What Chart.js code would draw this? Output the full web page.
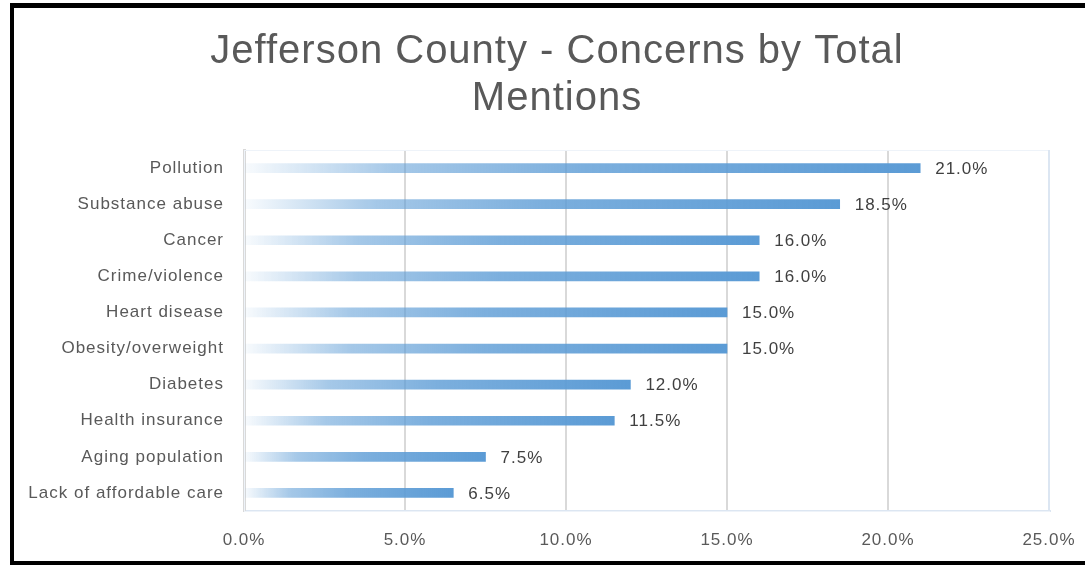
<!DOCTYPE html>
<html>
<head>
<meta charset="utf-8">
<title>Jefferson County - Concerns by Total Mentions</title>
<script src="https://cdn.jsdelivr.net/npm/chart.js@4/dist/chart.umd.min.js"></script>
<style>
  html, body { margin: 0; padding: 0; background: #fff; }
  #wrap { position: relative; width: 1085px; height: 565px; }
</style>
</head>
<body>
<div id="wrap"><canvas id="concerns"></canvas></div>
<script>
  // concerns, largest first (top of chart)
  var CATEGORIES = [
    "Pollution",
    "Substance abuse",
    "Cancer",
    "Crime/violence",
    "Heart disease",
    "Obesity/overweight",
    "Diabetes",
    "Health insurance",
    "Aging population",
    "Lack of affordable care"
  ];
  // share of total mentions, in percent
  var MENTIONS = [21.0, 18.5, 16.0, 16.0, 15.0, 15.0, 12.0, 11.5, 7.5, 6.5];
  var TITLE_LINES = ["Jefferson County - Concerns by Total", "Mentions"];
  var AXIS_MAX = 25;
  var AXIS_STEP = 5;

  var FONT = "'Liberation Sans', Arial, sans-serif";
  var LABEL = "#595959";
  var VALUE_INK = "#404040";
  var GRID = "#d9d9d9";
  var FRAME_EDGE = "#dce6f2";

  function pct(v) { return v.toFixed(1) + "%"; }

  // each bar fades in from white at zero to full blue at its end
  function barFill(ctx) {
    var chart = ctx.chart;
    if (!chart.chartArea || ctx.type !== "data") return "#5b9bd5";
    var x = chart.scales.x;
    var x0 = x.getPixelForValue(0);
    var x1 = x.getPixelForValue(ctx.raw);
    var g = chart.ctx.createLinearGradient(x0, 0, x1, 0);
    g.addColorStop(0, "rgba(91,155,213,0.04)");
    g.addColorStop(0.22, "rgba(91,155,213,0.55)");
    g.addColorStop(0.5, "rgba(91,155,213,0.8)");
    g.addColorStop(1, "rgba(91,155,213,1)");
    return g;
  }

  var spacing = {
    id: "spacing",
    beforeDraw: function (chart) { chart.ctx.letterSpacing = "1px"; },
    afterDraw: function (chart) { chart.ctx.letterSpacing = "0px"; }
  };

  var titleBlock = {
    id: "titleBlock",
    afterDraw: function (chart) {
      var c = chart.ctx;
      c.save();
      c.letterSpacing = "1px";
      c.font = "40px " + FONT;
      c.fillStyle = LABEL;
      c.textAlign = "center";
      c.textBaseline = "alphabetic";
      TITLE_LINES.forEach(function (line, i) {
        c.fillText(line, 557, 63 + i * 47);
      });
      c.restore();
    }
  };

  var plotFrame = {
    id: "plotFrame",
    beforeDatasetsDraw: function (chart) {
      var a = chart.chartArea, c = chart.ctx;
      c.save();
      c.strokeStyle = "#eef3f9";
      c.lineWidth = 1;
      c.strokeRect(a.left + 0.5, a.top + 0.5, a.right - a.left, a.bottom - a.top);
      c.strokeStyle = FRAME_EDGE;
      c.lineWidth = 2;
      c.beginPath();
      c.moveTo(a.right, a.top);
      c.lineTo(a.right, a.bottom);
      c.stroke();
      c.restore();
    },
    afterDraw: function (chart) {
      // black outline round the whole chart
      var c = chart.ctx;
      c.save();
      c.fillStyle = "#000";
      c.fillRect(10, 3, 4, 562);
      c.fillRect(10, 3, 1075, 5);
      c.fillRect(10, 561, 1075, 4);
      c.restore();
    }
  };

  var valueLabels = {
    id: "valueLabels",
    afterDatasetsDraw: function (chart) {
      var c = chart.ctx;
      var meta = chart.getDatasetMeta(0);
      c.save();
      c.font = "17px " + FONT;
      c.fillStyle = VALUE_INK;
      c.textAlign = "left";
      c.textBaseline = "middle";
      meta.data.forEach(function (bar, i) {
        c.fillText(pct(MENTIONS[i]), bar.x + 15, bar.y + 1);
      });
      c.restore();
    }
  };

  new Chart(document.getElementById("concerns"), {
    type: "bar",
    data: {
      labels: CATEGORIES,
      datasets: [{
        data: MENTIONS,
        backgroundColor: barFill,
        borderWidth: 0,
        barThickness: 9
      }]
    },
    options: {
      indexAxis: "y",
      responsive: true,
      maintainAspectRatio: false,
      animation: false,
      layout: { padding: { top: 150, right: 36, bottom: 15, left: 0 } },
      plugins: {
        legend: { display: false },
        title: { display: false },
        tooltip: { enabled: false }
      },
      scales: {
        x: {
          min: 0,
          max: AXIS_MAX,
          afterFit: function (s) {
            s.height = 39;
            s.paddingLeft = 0;
            s.paddingRight = 0;
          },
          ticks: {
            stepSize: AXIS_STEP,
            padding: 19,
            color: LABEL,
            font: { family: FONT, size: 17 },
            callback: function (v) { return pct(v); }
          },
          grid: {
            drawTicks: false,
            color: function (ctx) { return ctx.index === 0 ? GRID : (ctx.tick && ctx.tick.value === AXIS_MAX ? FRAME_EDGE : GRID); },
            lineWidth: function (ctx) { return ctx.index === 0 ? 3 : 2; }
          },
          border: { color: FRAME_EDGE, width: 2 }
        },
        y: {
          afterFit: function (s) { s.width = 244; },
          ticks: {
            padding: 20,
            color: LABEL,
            font: { family: FONT, size: 17 }
          },
          grid: { display: false, drawTicks: false },
          border: { color: GRID, width: 3 }
        }
      }
    },
    plugins: [spacing, plotFrame, valueLabels, titleBlock]
  });
</script>
</body>
</html>
